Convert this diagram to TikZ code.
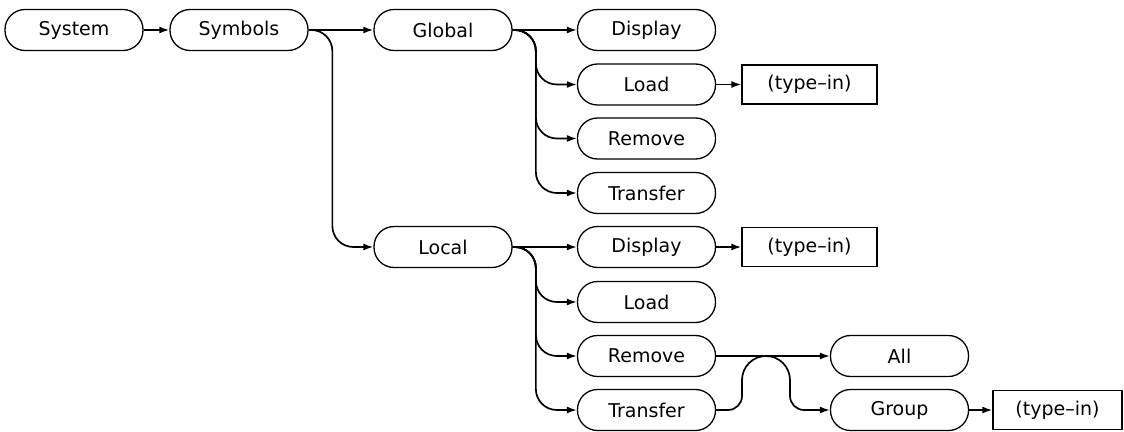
\documentclass[tikz,border=0pt]{standalone}
\usepackage{fontspec}
\setmainfont{DejaVu Sans}
\usetikzlibrary{arrows.meta}
\begin{document}
\begin{tikzpicture}[x=1pt,y=-1pt,
  term/.style={draw, rounded corners=20pt, minimum width=138pt, minimum height=41pt,
    line width=1.3pt, inner sep=0pt, font=\fontsize{19}{22}\selectfont},
  typein/.style={draw, rectangle, minimum width=135pt, minimum height=39pt,
    line width=1.3pt, inner sep=0pt, font=\fontsize{19}{22}\selectfont},
  conn/.style={line width=1.7pt, -{Latex[length=10pt,width=7pt]}},
  branch/.style={conn, rounded corners=21pt}]
\fill[white] (0,0) rectangle (1124,431);
\useasboundingbox (0,0) rectangle (1124,431);
% nodes
\node[term] (system)  at (74,30)    {System};
\node[term] (symbols) at (239,30)   {Symbols};
\node[term] (global)  at (443,30)   {Global};
\node[term] (local)   at (443,247)  {Local};
\node[term] (gdisp)   at (646.5,30)   {Display};
\node[term] (gload)   at (646.5,84.5) {Load};
\node[term] (grem)    at (646.5,138.5){Remove};
\node[term] (gtrans)  at (646.5,193)  {Transfer};
\node[term] (ldisp)   at (646.5,247)  {Display};
\node[term] (lload)   at (646.5,302)  {Load};
\node[term] (lrem)    at (646.5,356)  {Remove};
\node[term] (ltrans)  at (646.5,410)  {Transfer};
\node[typein] (gtype) at (809.5,84.5) {(type--in)};
\node[typein] (ltype) at (809.5,247)  {(type--in)};
\node[term] (all)     at (899.5,356)  {All};
\node[term] (group)   at (899.5,410)  {Group};
\node[typein, minimum width=129pt] (grtype) at (1057.5,410) {(type--in)};
% connectors
\draw[conn] (system.east) -- (symbols.west);
\draw[conn] (symbols.east) -- (global.west);
\draw[branch] (symbols.east) -| ([xshift=-41pt]local.west) -- (local.west);
\draw[conn] (global.east) -- (gdisp.west);
\foreach \n in {gload,grem,gtrans}
  \draw[branch] (global.east) -| ([xshift=-41pt]\n.west) -- (\n.west);
\draw[conn] (local.east) -- (ldisp.west);
\foreach \n in {lload,lrem,ltrans}
  \draw[branch] (local.east) -| ([xshift=-41pt]\n.west) -- (\n.west);
\draw[conn] (gload.east) -- (gtype.west);
\draw[conn] (ldisp.east) -- (ltype.west);
\draw[conn] (group.east) -- (grtype.west);
\draw[conn] (lrem.east) -- (all.west);
\draw[conn] (ltrans.east) -- (728,410)
  .. controls (735.7,410) and (742,403.7) .. (742,396) -- (742,380)
  .. controls (742,366.8) and (752.8,356) .. (766,356)
  .. controls (779.2,356) and (790,366.8) .. (790,380) -- (790,396)
  .. controls (790,403.7) and (796.3,410) .. (804,410) -- (group.west);
\end{tikzpicture}
\end{document}
